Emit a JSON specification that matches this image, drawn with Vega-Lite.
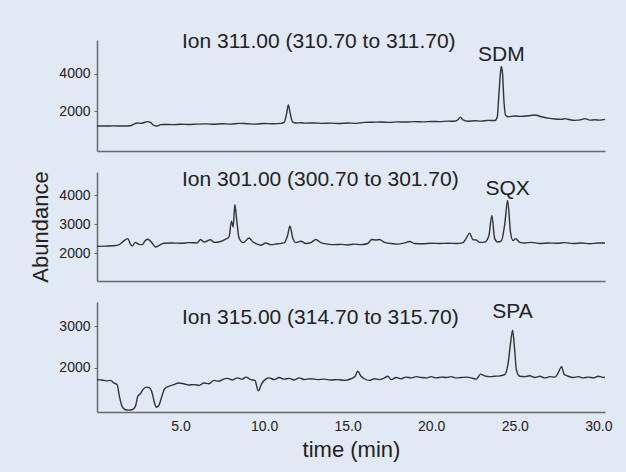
{
  "$schema": "https://vega.github.io/schema/vega-lite/v6.json",
  "background": "#e1e9f4",
  "padding": {"left": 29, "top": 31, "right": 17, "bottom": 12},
  "spacing": 21,
  "bounds": "flush",
  "config": {
    "view": {"stroke": null},
    "font": "Liberation Sans",
    "axis": {
      "domainColor": "#6a6a6a", "domainWidth": 1.5, "tickColor": "#6a6a6a", "tickSize": 3,
      "labelFont": "Liberation Sans", "labelFontSize": 14, "labelColor": "#222", "labelPadding": 4,
      "grid": false, "labelFlush": false,
      "titleFont": "Liberation Sans", "titleFontSize": 22, "titleFontWeight": "normal", "titleColor": "#222"
    },
    "title": {"font": "Liberation Sans", "fontSize": 21, "fontWeight": "normal", "color": "#222", "anchor": "start", "frame": "group", "baseline": "middle", "offset": 0, "dx": 85}
  },
  "datasets": {
    "p1": [
      {"t":0,"v":1230},{"t":0.5,"v":1225},{"t":1.0,"v":1235},{"t":1.5,"v":1228},{"t":2.0,"v":1240},{"t":2.2,"v":1330},{"t":2.4,"v":1390},{"t":2.6,"v":1370},{"t":2.8,"v":1400},{"t":3.0,"v":1460},{"t":3.2,"v":1420},{"t":3.4,"v":1260},{"t":3.6,"v":1230},{"t":3.8,"v":1300},{"t":4.0,"v":1310},{"t":4.5,"v":1300},{"t":5.0,"v":1320},{"t":5.5,"v":1310},{"t":6.0,"v":1330},{"t":6.5,"v":1340},{"t":7.0,"v":1320},{"t":7.5,"v":1350},{"t":8.0,"v":1330},{"t":8.5,"v":1370},{"t":9.0,"v":1350},{"t":9.5,"v":1330},{"t":10.0,"v":1360},{"t":10.5,"v":1350},{"t":11.0,"v":1370},{"t":11.2,"v":1420},{"t":11.35,"v":1900},{"t":11.45,"v":2350},{"t":11.55,"v":1950},{"t":11.7,"v":1450},{"t":11.9,"v":1390},{"t":12.2,"v":1400},{"t":12.5,"v":1380},{"t":13.0,"v":1390},{"t":13.5,"v":1370},{"t":14.0,"v":1380},{"t":14.5,"v":1360},{"t":15.0,"v":1390},{"t":15.5,"v":1370},{"t":16.0,"v":1420},{"t":16.5,"v":1430},{"t":17.0,"v":1440},{"t":17.5,"v":1420},{"t":18.0,"v":1450},{"t":18.5,"v":1440},{"t":19.0,"v":1460},{"t":19.5,"v":1450},{"t":20.0,"v":1470},{"t":20.5,"v":1460},{"t":21.0,"v":1490},{"t":21.4,"v":1480},{"t":21.6,"v":1560},{"t":21.75,"v":1700},{"t":21.9,"v":1550},{"t":22.2,"v":1480},{"t":22.6,"v":1510},{"t":23.0,"v":1490},{"t":23.4,"v":1530},{"t":23.8,"v":1520},{"t":23.95,"v":1700},{"t":24.05,"v":2900},{"t":24.15,"v":4100},{"t":24.2,"v":4400},{"t":24.27,"v":4000},{"t":24.35,"v":2600},{"t":24.45,"v":1800},{"t":24.6,"v":1720},{"t":25.0,"v":1760},{"t":25.4,"v":1740},{"t":25.8,"v":1770},{"t":26.2,"v":1810},{"t":26.6,"v":1720},{"t":27.0,"v":1650},{"t":27.4,"v":1600},{"t":27.8,"v":1580},{"t":28.0,"v":1620},{"t":28.3,"v":1560},{"t":28.6,"v":1530},{"t":29.0,"v":1570},{"t":29.2,"v":1620},{"t":29.5,"v":1540},{"t":29.8,"v":1560},{"t":30.1,"v":1540},{"t":30.4,"v":1580}
    ],
    "p2": [
      {"t":0,"v":2230},{"t":0.5,"v":2240},{"t":1.0,"v":2250},{"t":1.3,"v":2280},{"t":1.6,"v":2420},{"t":1.85,"v":2500},{"t":2.0,"v":2300},{"t":2.1,"v":2240},{"t":2.3,"v":2370},{"t":2.5,"v":2300},{"t":2.7,"v":2290},{"t":2.9,"v":2440},{"t":3.05,"v":2480},{"t":3.25,"v":2380},{"t":3.5,"v":2210},{"t":3.7,"v":2260},{"t":4.0,"v":2340},{"t":4.5,"v":2350},{"t":5.0,"v":2340},{"t":5.5,"v":2360},{"t":6.0,"v":2350},{"t":6.2,"v":2470},{"t":6.4,"v":2380},{"t":6.8,"v":2460},{"t":7.0,"v":2370},{"t":7.4,"v":2400},{"t":7.7,"v":2480},{"t":7.9,"v":2560},{"t":8.05,"v":3100},{"t":8.15,"v":2900},{"t":8.25,"v":3680},{"t":8.35,"v":3200},{"t":8.5,"v":2520},{"t":8.75,"v":2360},{"t":9.1,"v":2520},{"t":9.3,"v":2400},{"t":9.5,"v":2330},{"t":9.8,"v":2270},{"t":10.1,"v":2350},{"t":10.4,"v":2290},{"t":10.8,"v":2320},{"t":11.2,"v":2350},{"t":11.4,"v":2600},{"t":11.55,"v":2940},{"t":11.7,"v":2550},{"t":11.9,"v":2360},{"t":12.2,"v":2410},{"t":12.5,"v":2330},{"t":12.8,"v":2360},{"t":13.1,"v":2470},{"t":13.4,"v":2360},{"t":13.8,"v":2310},{"t":14.2,"v":2290},{"t":14.6,"v":2300},{"t":15.0,"v":2280},{"t":15.4,"v":2310},{"t":15.8,"v":2290},{"t":16.2,"v":2330},{"t":16.45,"v":2470},{"t":16.7,"v":2450},{"t":16.9,"v":2470},{"t":17.2,"v":2370},{"t":17.6,"v":2330},{"t":18.0,"v":2310},{"t":18.4,"v":2350},{"t":18.7,"v":2400},{"t":19.0,"v":2330},{"t":19.5,"v":2320},{"t":20.0,"v":2340},{"t":20.5,"v":2330},{"t":21.0,"v":2340},{"t":21.5,"v":2330},{"t":21.9,"v":2360},{"t":22.1,"v":2520},{"t":22.3,"v":2690},{"t":22.5,"v":2460},{"t":22.7,"v":2450},{"t":22.9,"v":2370},{"t":23.2,"v":2380},{"t":23.45,"v":2600},{"t":23.63,"v":3300},{"t":23.8,"v":2500},{"t":24.0,"v":2380},{"t":24.2,"v":2420},{"t":24.4,"v":3000},{"t":24.57,"v":3820},{"t":24.75,"v":2700},{"t":24.9,"v":2430},{"t":25.05,"v":2500},{"t":25.3,"v":2370},{"t":25.6,"v":2350},{"t":26.0,"v":2370},{"t":26.5,"v":2330},{"t":27.0,"v":2350},{"t":27.5,"v":2340},{"t":28.0,"v":2360},{"t":28.5,"v":2330},{"t":29.0,"v":2350},{"t":29.5,"v":2320},{"t":30.0,"v":2350},{"t":30.4,"v":2350}
    ],
    "p3": [
      {"t":0,"v":1720},{"t":0.3,"v":1710},{"t":0.55,"v":1690},{"t":0.8,"v":1700},{"t":1.0,"v":1640},{"t":1.2,"v":1600},{"t":1.35,"v":1300},{"t":1.5,"v":1080},{"t":1.7,"v":1000},{"t":1.9,"v":990},{"t":2.1,"v":1000},{"t":2.3,"v":1080},{"t":2.45,"v":1330},{"t":2.6,"v":1380},{"t":2.75,"v":1480},{"t":2.95,"v":1540},{"t":3.15,"v":1520},{"t":3.3,"v":1400},{"t":3.45,"v":1150},{"t":3.55,"v":1060},{"t":3.7,"v":1100},{"t":3.85,"v":1280},{"t":4.05,"v":1500},{"t":4.3,"v":1560},{"t":4.6,"v":1600},{"t":4.9,"v":1640},{"t":5.2,"v":1620},{"t":5.5,"v":1590},{"t":5.8,"v":1600},{"t":6.1,"v":1580},{"t":6.4,"v":1640},{"t":6.7,"v":1620},{"t":7.0,"v":1700},{"t":7.3,"v":1680},{"t":7.5,"v":1720},{"t":7.8,"v":1750},{"t":8.1,"v":1710},{"t":8.4,"v":1760},{"t":8.7,"v":1730},{"t":8.9,"v":1780},{"t":9.2,"v":1720},{"t":9.45,"v":1700},{"t":9.65,"v":1450},{"t":9.85,"v":1620},{"t":10.1,"v":1730},{"t":10.3,"v":1760},{"t":10.6,"v":1720},{"t":10.9,"v":1770},{"t":11.2,"v":1730},{"t":11.5,"v":1750},{"t":11.8,"v":1710},{"t":12.1,"v":1760},{"t":12.4,"v":1720},{"t":12.8,"v":1740},{"t":13.2,"v":1720},{"t":13.6,"v":1730},{"t":14.0,"v":1710},{"t":14.4,"v":1720},{"t":14.8,"v":1700},{"t":15.2,"v":1740},{"t":15.45,"v":1800},{"t":15.6,"v":1920},{"t":15.8,"v":1800},{"t":16.0,"v":1740},{"t":16.3,"v":1700},{"t":16.6,"v":1740},{"t":16.9,"v":1720},{"t":17.2,"v":1760},{"t":17.4,"v":1800},{"t":17.6,"v":1720},{"t":17.9,"v":1770},{"t":18.2,"v":1740},{"t":18.5,"v":1780},{"t":18.8,"v":1760},{"t":19.1,"v":1790},{"t":19.4,"v":1770},{"t":19.7,"v":1760},{"t":20.0,"v":1790},{"t":20.3,"v":1760},{"t":20.6,"v":1780},{"t":20.9,"v":1770},{"t":21.2,"v":1790},{"t":21.5,"v":1760},{"t":21.8,"v":1770},{"t":22.1,"v":1780},{"t":22.4,"v":1760},{"t":22.7,"v":1730},{"t":22.95,"v":1850},{"t":23.2,"v":1810},{"t":23.5,"v":1790},{"t":23.8,"v":1800},{"t":24.1,"v":1810},{"t":24.4,"v":1840},{"t":24.6,"v":2100},{"t":24.75,"v":2600},{"t":24.87,"v":2900},{"t":24.98,"v":2500},{"t":25.1,"v":1950},{"t":25.3,"v":1800},{"t":25.6,"v":1790},{"t":25.9,"v":1810},{"t":26.2,"v":1770},{"t":26.5,"v":1800},{"t":26.8,"v":1760},{"t":27.1,"v":1790},{"t":27.4,"v":1780},{"t":27.6,"v":1880},{"t":27.8,"v":2030},{"t":27.95,"v":1850},{"t":28.2,"v":1800},{"t":28.5,"v":1770},{"t":28.8,"v":1790},{"t":29.1,"v":1760},{"t":29.4,"v":1780},{"t":29.7,"v":1760},{"t":30.0,"v":1800},{"t":30.2,"v":1780},{"t":30.4,"v":1770}
    ],
    "peaks": [
      {"panel": 1, "t": 24.2, "v": 4400, "name": "SDM"},
      {"panel": 2, "t": 24.57, "v": 3820, "name": "SQX"},
      {"panel": 3, "t": 24.87, "v": 2900, "name": "SPA"}
    ]
  },
  "vconcat": [
    {
      "width": 508, "height": 111,
      "title": {"text": "Ion 311.00 (310.70 to 311.70)", "dy": 16},
      "layer": [
        {
          "data": {"name": "p1"},
          "mark": {"type": "line", "color": "#333", "strokeWidth": 1.4, "interpolate": "monotone"},
          "encoding": {
            "x": {"field": "t", "type": "quantitative", "scale": {"domain": [0, 30.4], "nice": false, "zero": false}, "axis": {"labels": false, "ticks": false, "title": null}},
            "y": {"field": "v", "type": "quantitative", "scale": {"domain": [-100, 5800], "nice": false, "zero": false}, "axis": {"values": [2000, 4000], "format": "d", "title": null}}
          }
        },
        {
          "data": {"name": "peaks"},
          "transform": [{"filter": "datum.panel === 1"}],
          "mark": {"type": "text", "baseline": "bottom", "dy": -1, "fontSize": 21, "color": "#222"},
          "encoding": {
            "x": {"field": "t", "type": "quantitative"},
            "y": {"field": "v", "type": "quantitative"},
            "text": {"field": "name"}
          }
        }
      ]
    },
    {
      "width": 508, "height": 109,
      "title": {"text": "Ion 301.00 (300.70 to 301.70)", "dy": 23},
      "layer": [
        {
          "data": {"name": "p2"},
          "mark": {"type": "line", "color": "#333", "strokeWidth": 1.4, "interpolate": "monotone"},
          "encoding": {
            "x": {"field": "t", "type": "quantitative", "scale": {"domain": [0, 30.4], "nice": false, "zero": false}, "axis": {"labels": false, "ticks": false, "title": null}},
            "y": {"field": "v", "type": "quantitative", "scale": {"domain": [1030, 4810], "nice": false, "zero": false}, "axis": {"values": [2000, 3000, 4000], "format": "d", "title": "Abundance", "titlePadding": 6}}
          }
        },
        {
          "data": {"name": "peaks"},
          "transform": [{"filter": "datum.panel === 2"}],
          "mark": {"type": "text", "baseline": "bottom", "dy": -2, "fontSize": 21, "color": "#222"},
          "encoding": {
            "x": {"field": "t", "type": "quantitative"},
            "y": {"field": "v", "type": "quantitative"},
            "text": {"field": "name"}
          }
        }
      ]
    },
    {
      "width": 508, "height": 110,
      "title": {"text": "Ion 315.00 (314.70 to 315.70)", "dy": 31},
      "layer": [
        {
          "data": {"name": "p3"},
          "mark": {"type": "line", "color": "#333", "strokeWidth": 1.4, "interpolate": "monotone"},
          "encoding": {
            "x": {"field": "t", "type": "quantitative", "scale": {"domain": [0, 30.4], "nice": false, "zero": false}, "axis": {"values": [5, 10, 15, 20, 25, 30], "format": ".1f", "ticks": false, "labelPadding": 7, "title": "time (min)", "titlePadding": 6}},
            "y": {"field": "v", "type": "quantitative", "scale": {"domain": [945, 3575], "nice": false, "zero": false}, "axis": {"values": [2000, 3000], "format": "d", "title": null}}
          }
        },
        {
          "data": {"name": "peaks"},
          "transform": [{"filter": "datum.panel === 3"}],
          "mark": {"type": "text", "baseline": "bottom", "dy": -8, "fontSize": 21, "color": "#222"},
          "encoding": {
            "x": {"field": "t", "type": "quantitative"},
            "y": {"field": "v", "type": "quantitative"},
            "text": {"field": "name"}
          }
        }
      ]
    }
  ]
}
